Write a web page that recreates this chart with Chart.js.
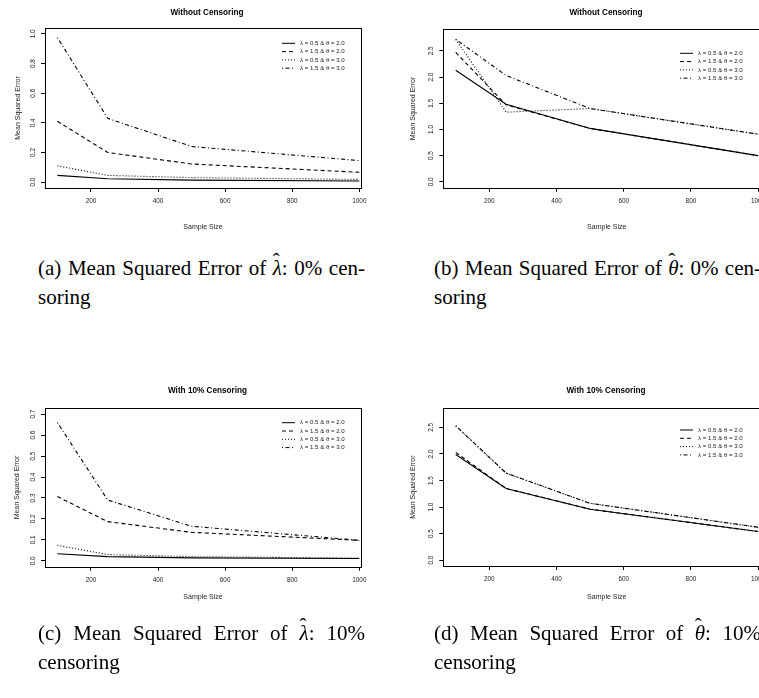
<!DOCTYPE html>
<html>
<head>
<meta charset="utf-8">
<script src="https://cdn.jsdelivr.net/npm/chart.js@4.4.1/dist/chart.umd.min.js"></script>
<style>
  html, body { margin: 0; padding: 0; background: #fff; overflow: hidden; }
  #page { position: relative; width: 759px; height: 698px; overflow: hidden; }
  canvas { position: absolute; }
  .cap { position: absolute; font-family: "Liberation Serif", "Times New Roman", serif; font-size: 21px; line-height: 28.5px; color: #000; }
  .cap .l1 { width: 327px; text-align: justify; text-align-last: justify; white-space: nowrap; }
  .hat { position: relative; display: inline-block; font-style: italic; }
  .hat .acc { position: absolute; left: 0; right: 0; top: -7px; text-align: center; font-style: normal; }
</style>
</head>
<body>
<div id="page">
  <canvas id="chartA" width="380" height="240" style="left:0;top:0"></canvas>
  <canvas id="chartB" width="409" height="240" style="left:380px;top:0"></canvas>
  <canvas id="chartC" width="380" height="240" style="left:0;top:380px"></canvas>
  <canvas id="chartD" width="409" height="240" style="left:380px;top:380px"></canvas>

  <div class="cap" style="left:38px;top:254px"><div class="l1">(a) Mean Squared Error of <span class="hat">λ<span class="acc">ˆ</span></span>: 0% cen-</div><div>soring</div></div>
  <div class="cap" style="left:434px;top:254px"><div class="l1">(b) Mean Squared Error of <span class="hat">θ<span class="acc">ˆ</span></span>: 0% cen-</div><div>soring</div></div>
  <div class="cap" style="left:38px;top:619px"><div class="l1">(c) Mean Squared Error of <span class="hat">λ<span class="acc">ˆ</span></span>: 10%</div><div>censoring</div></div>
  <div class="cap" style="left:434px;top:619px"><div class="l1">(d) Mean Squared Error of <span class="hat">θ<span class="acc">ˆ</span></span>: 10%</div><div>censoring</div></div>
</div>

<script>
// sample sizes on the x axis
const sampleSizes = [100, 250, 500, 1000];
const seriesLabels = ['λ = 0.5 & θ = 2.0', 'λ = 1.5 & θ = 2.0', 'λ = 0.5 & θ = 3.0', 'λ = 1.5 & θ = 3.0'];
const xTicks = [200, 400, 600, 800, 1000];

// (a) MSE of lambda hat, 0% censoring
const lamNoCens1 = [0.045, 0.022, 0.013, 0.007];
const lamNoCens2 = [0.41, 0.20, 0.122, 0.066];
const lamNoCens3 = [0.11, 0.045, 0.03, 0.018];
const lamNoCens4 = [0.975, 0.43, 0.24, 0.145];
const yTicksLamNoCens = [0, 0.2, 0.4, 0.6, 0.8, 1.0];

// (b) MSE of theta hat, 0% censoring
const thNoCens1 = [2.13, 1.48, 1.02, 0.50];
const thNoCens2 = [2.47, 1.47, 1.02, 0.50];
const thNoCens3 = [2.72, 1.33, 1.40, 0.91];
const thNoCens4 = [2.72, 2.03, 1.40, 0.91];
const yTicksTheta = [0, 0.5, 1.0, 1.5, 2.0, 2.5];

// (c) MSE of lambda hat, 10% censoring
const lamCens1 = [0.034, 0.02, 0.014, 0.011];
const lamCens2 = [0.307, 0.187, 0.136, 0.098];
const lamCens3 = [0.074, 0.03, 0.02, 0.013];
const lamCens4 = [0.66, 0.29, 0.165, 0.098];
const yTicksLamCens = [0, 0.1, 0.2, 0.3, 0.4, 0.5, 0.6, 0.7];

// (d) MSE of theta hat, 10% censoring
const thCens1 = [1.99, 1.35, 0.96, 0.54];
const thCens2 = [2.03, 1.35, 0.96, 0.54];
const thCens3 = [2.53, 1.64, 1.07, 0.62];
const thCens4 = [2.53, 1.64, 1.07, 0.62];

const lineDashes = [[], [4, 3], [1, 2], [1, 2.5, 4, 2.5]];
const FONT = '"Liberation Sans", Arial, sans-serif';

// R-like box, main title and legend inside the plot
const rStyle = {
  id: 'rStyle',
  afterDraw(chart, args, opts) {
    const ctx = chart.ctx, a = chart.chartArea;
    ctx.save();
    ctx.strokeStyle = '#000';
    ctx.lineWidth = 1;
    const l = Math.round(a.left) + 0.5, t = Math.round(a.top) + 0.5;
    ctx.strokeRect(l, t, Math.round(a.right) - Math.round(a.left), Math.round(a.bottom) - Math.round(a.top));

    ctx.fillStyle = '#000';
    ctx.font = 'bold 8.2px ' + FONT;
    ctx.textAlign = 'center';
    ctx.textBaseline = 'middle';
    ctx.fillText(opts.title, opts.titleX, opts.titleY);

    ctx.font = '6.1px ' + FONT;
    ctx.textAlign = 'left';
    ctx.fillStyle = '#222';
    chart.data.datasets.forEach((ds, i) => {
      const y = opts.legY + i * 8.3;
      ctx.setLineDash(ds.borderDash);
      ctx.beginPath();
      ctx.moveTo(opts.legX, y);
      ctx.lineTo(opts.legX + 13, y);
      ctx.stroke();
      ctx.setLineDash([]);
      ctx.fillText(ds.label, opts.legX + 18, y);
    });
    ctx.restore();
  }
};

function drawPanel(id, series, p) {
  const axisLh = 7 * 1.2;
  return new Chart(document.getElementById(id), {
    type: 'line',
    data: {
      datasets: series.map((vals, i) => ({
        label: seriesLabels[i],
        data: sampleSizes.map((x, j) => ({ x: x, y: vals[j] })),
        borderColor: '#000',
        borderWidth: 1.1,
        borderDash: lineDashes[i],
        pointRadius: 0,
        tension: 0,
        fill: false
      }))
    },
    options: {
      responsive: false,
      animation: false,
      devicePixelRatio: 1,
      layout: { padding: { left: 0, top: p.T, right: p.W - p.R, bottom: 0 } },
      plugins: {
        legend: { display: false },
        tooltip: { enabled: false },
        title: { display: false },
        rStyle: { title: p.title, titleX: p.titleX, titleY: p.titleY, legX: p.legX, legY: p.legY }
      },
      scales: {
        x: {
          type: 'linear',
          min: p.xMin,
          max: p.xMax,
          bounds: 'data',
          afterBuildTicks: s => { s.ticks = xTicks.map(v => ({ value: v })); },
          afterFit: s => { s.height = p.H - p.B; },
          border: { display: false },
          grid: { drawOnChartArea: false, drawTicks: true, tickLength: 4, color: '#000', lineWidth: 1 },
          ticks: { autoSkip: false, maxRotation: 0, padding: 5.5, color: '#222', font: { family: FONT, size: 6.4 }, callback: v => String(v) },
          title: { display: true, text: 'Sample Size', color: '#222', font: { family: FONT, size: 7 },
                   padding: { top: 0, bottom: p.H - p.xTitleY - axisLh / 2 } }
        },
        y: {
          type: 'linear',
          min: p.yMin,
          max: p.yMax,
          bounds: 'data',
          afterBuildTicks: s => { s.ticks = p.yTicks.map(v => ({ value: v })); },
          afterFit: s => { s.width = p.L; },
          border: { display: false },
          grid: { drawOnChartArea: false, drawTicks: true, tickLength: 4, color: '#000', lineWidth: 1 },
          ticks: { autoSkip: false, minRotation: 90, maxRotation: 90, crossAlign: 'center', padding: 3.5,
                   color: '#222', font: { family: FONT, size: 6.4 }, callback: v => v.toFixed(1) },
          title: { display: true, text: 'Mean Squared Error', color: '#222', font: { family: FONT, size: 7 },
                   padding: { top: p.yTitleX - axisLh / 2, bottom: 0 } }
        }
      }
    },
    plugins: [rStyle]
  });
}

drawPanel('chartA', [lamNoCens1, lamNoCens2, lamNoCens3, lamNoCens4], {
  title: 'Without Censoring', W: 380, H: 240, L: 45, T: 28, R: 361, B: 188,
  titleX: 207, titleY: 13, xTitleY: 227, yTitleX: 18.3, legX: 282, legY: 43.3,
  xMin: 63, xMax: 1005, yMin: -0.04, yMax: 1.04, yTicks: yTicksLamNoCens
});

drawPanel('chartB', [thNoCens1, thNoCens2, thNoCens3, thNoCens4], {
  title: 'Without Censoring', W: 409, H: 240, L: 63.3, T: 29.3, R: 390.2, B: 187.7,
  titleX: 226, titleY: 12.7, xTitleY: 226.7, yTitleX: 33.3, legX: 300, legY: 53.3,
  xMin: 63, xMax: 1036, yMin: -0.112, yMax: 2.912, yTicks: yTicksTheta
});

drawPanel('chartC', [lamCens1, lamCens2, lamCens3, lamCens4], {
  title: 'With 10% Censoring', W: 380, H: 240, L: 45, T: 28.3, R: 361, B: 186.7,
  titleX: 207.5, titleY: 11, xTitleY: 216.7, yTitleX: 16.7, legX: 282, legY: 42.7,
  xMin: 63, xMax: 1005, yMin: -0.028, yMax: 0.728, yTicks: yTicksLamCens
});

drawPanel('chartD', [thCens1, thCens2, thCens3, thCens4], {
  title: 'With 10% Censoring', W: 409, H: 240, L: 63.3, T: 28.3, R: 390.2, B: 186,
  titleX: 226, titleY: 11, xTitleY: 216.7, yTitleX: 33.3, legX: 300, legY: 50,
  xMin: 63, xMax: 1036, yMin: -0.11, yMax: 2.86, yTicks: yTicksTheta
});
</script>
</body>
</html>
